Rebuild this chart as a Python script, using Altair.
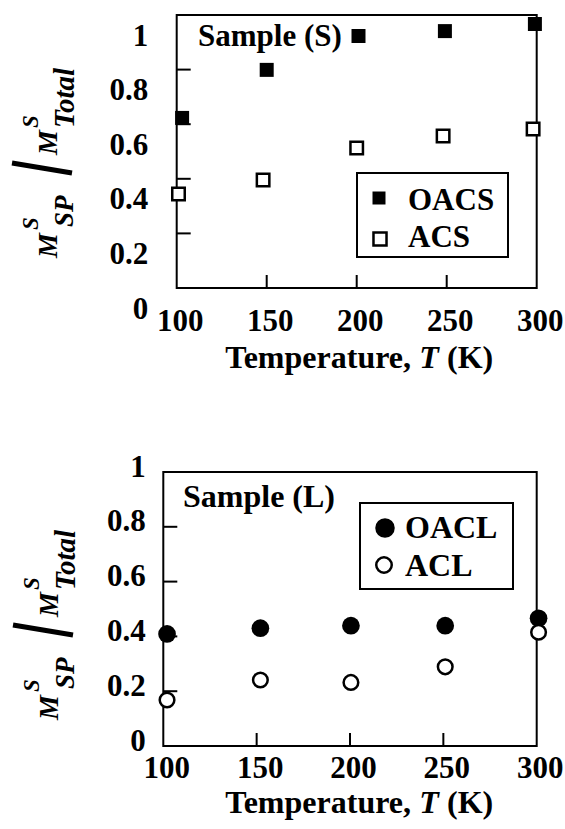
import altair as alt
import pandas as pd

FONT = "Liberation Serif"

# ---- data ----
temps_oacs = [103, 150, 201, 249, 299]
ratio_oacs = [0.623, 0.799, 0.923, 0.941, 0.967]
temps_acs = [101, 148, 200, 248, 298]
ratio_acs = [0.344, 0.396, 0.513, 0.557, 0.582]

temps_oacl = [102, 152, 200.5, 251, 301]
ratio_oacl = [0.409, 0.430, 0.439, 0.439, 0.466]
temps_acl = [102, 152, 200.5, 251, 301]
ratio_acl = [0.168, 0.241, 0.232, 0.289, 0.415]

x_domain = [100, 300]
y_domain = [0, 1]
x_tick_values = [100, 150, 200, 250, 300]
y_tick_values = [0, 0.2, 0.4, 0.6, 0.8, 1]
inner_x_ticks = [150, 200, 250]
inner_y_ticks = [0.2, 0.4, 0.6, 0.8]

panel_titles = ["Sample (S)", "Sample (L)"]
top_series = ["OACS", "ACS"]
bottom_series = ["OACL", "ACL"]
x_title_parts = ["Temperature,", "T", "(K)"]
y_title_parts = ["M", "S", "SP", "M", "S", "Total"]

W, H = 565, 829


def one():
    return pd.DataFrame({"d": [0]})


def txt(s, x, y, size, style="normal", align="left", baseline="middle", angle=0):
    return alt.Chart(pd.DataFrame({"t": [s]})).mark_text(
        font=FONT, fontSize=size, fontWeight="bold", fontStyle=style,
        align=align, baseline=baseline, angle=angle, color="black",
    ).encode(x=alt.value(x), y=alt.value(y), text="t:N")


def y_title(bx, by):
    p = y_title_parts
    return [
        txt(p[0], bx, by, 28, "italic", "left", "alphabetic", 270),
        txt(p[1], bx - 19, by - 28, 23, "italic", "left", "alphabetic", 270),
        txt(p[2], bx + 16, by - 31, 27, "italic", "left", "alphabetic", 270),
        alt.Chart(one()).mark_rule(color="black", strokeWidth=5).encode(
            x=alt.value(bx - 45), y=alt.value(by - 95),
            x2=alt.value(bx + 15), y2=alt.value(by - 85)),
        txt(p[3], bx, by - 103, 28, "italic", "left", "alphabetic", 270),
        txt(p[4], bx - 19, by - 130, 23, "italic", "left", "alphabetic", 270),
        txt(p[5], bx + 17, by - 130, 29, "italic", "left", "alphabetic", 270),
    ]


def x_title(xr, y):
    return [
        txt(x_title_parts[0], xr, y, 32, "normal", "right"),
        txt(x_title_parts[1], xr + 18, y, 32, "italic", "center"),
        txt(x_title_parts[2], xr + 36, y, 32, "normal", "left"),
    ]


def panel(frame, temps_a, vals_a, temps_b, vals_b, names, shape,
          size_a, size_b, leg, sample, ylab_pad, ylab_off, xlab_pad,
          ybase, xtitle):
    left, right, top, bottom = frame
    xscale = alt.Scale(domain=x_domain, range=[left, right], nice=False, zero=False)
    yscale = alt.Scale(domain=y_domain, range=[bottom, top], nice=False, zero=False)
    xaxis = alt.Axis(values=x_tick_values, orient="bottom", offset=bottom - H,
                     domain=False, ticks=False, grid=False,
                     labelFont=FONT, labelFontWeight="bold", labelFontSize=31,
                     labelColor="black", labelPadding=xlab_pad, labelFlush=False,
                     labelOffset=3, labelOverlap=False, title=None)
    yaxis = alt.Axis(values=y_tick_values, orient="left", offset=-left,
                     format="~g", domain=False, ticks=False,
                     grid=False, labelFont=FONT, labelFontWeight="bold",
                     labelFontSize=31, labelColor="black", labelPadding=ylab_pad,
                     labelOffset=ylab_off, labelOverlap=False, labelFlush=False,
                     title=None)

    def X(f):
        return alt.X(f, scale=xscale, axis=xaxis)

    def Y(f):
        return alt.Y(f, scale=yscale, axis=yaxis)

    df_a = pd.DataFrame({"T": temps_a, "r": vals_a})
    df_b = pd.DataFrame({"T": temps_b, "r": vals_b})

    frame_df = pd.DataFrame({"x0": [x_domain[0]], "x1": [x_domain[1]],
                             "y0": [y_domain[0]], "y1": [y_domain[1]]})
    box_frame = alt.Chart(frame_df).mark_rect(
        filled=False, stroke="black", strokeWidth=2).encode(
        x=X("x0:Q"), x2="x1", y=Y("y0:Q"), y2="y1")

    ytk = alt.Chart(pd.DataFrame({"v": inner_y_ticks})).mark_rule(
        color="black", strokeWidth=2).encode(
        y=Y("v:Q"), x=alt.value(left), x2=alt.value(left + 14))
    xtk = alt.Chart(pd.DataFrame({"v": inner_x_ticks})).mark_rule(
        color="black", strokeWidth=2).encode(
        x=X("v:Q"), y=alt.value(bottom), y2=alt.value(bottom - 13))

    pa = alt.Chart(df_a).mark_point(shape=shape, filled=True, color="black",
                                    size=size_a, opacity=1).encode(
        x=X("T:Q"), y=Y("r:Q"))
    pb = alt.Chart(df_b).mark_point(shape=shape, filled=True, fill="white",
                                    stroke="black", strokeWidth=2.5,
                                    size=size_b, opacity=1).encode(
        x=X("T:Q"), y=Y("r:Q"))

    (bx0, bx1, by0, by1, mxa, mya, mxb, myb, tx, tya, tyb, lsa, lsb, lfs) = leg
    box = alt.Chart(one()).mark_rect(fill="white", stroke="black", strokeWidth=2).encode(
        x=alt.value(bx0), x2=alt.value(bx1), y=alt.value(by0), y2=alt.value(by1))
    la = alt.Chart(one()).mark_point(shape=shape, filled=True, color="black",
                                     size=lsa, opacity=1).encode(
        x=alt.value(mxa), y=alt.value(mya))
    lb = alt.Chart(one()).mark_point(shape=shape, filled=True, fill="white",
                                     stroke="black", strokeWidth=2.5, size=lsb,
                                     opacity=1).encode(
        x=alt.value(mxb), y=alt.value(myb))
    ta = txt(names[0], tx, tya, lfs)
    tb = txt(names[1], tx, tyb, lfs)

    s_x, s_y, s_fs, s_txt = sample
    st = txt(s_txt, s_x, s_y, s_fs)

    layers = [box_frame, ytk, xtk, pa, pb, box, la, lb, ta, tb, st]
    layers += y_title(*ybase)
    layers += x_title(*xtitle)
    return alt.layer(*layers)


top = panel(
    (176.7, 536.7, 15, 288),
    temps_oacs, ratio_oacs, temps_acs, ratio_acs, top_series, "square",
    196, 156,
    (357, 508, 173, 257, 379, 198, 380, 239, 408, 201, 238, 169, 170, 31),
    (198, 37, 31, panel_titles[0]),
    29, 21, 18,
    (57, 258), (411, 358),
)

bottom = panel(
    (163.3, 536.7, 472, 746),
    temps_oacl, ratio_oacl, temps_acl, ratio_acl, bottom_series, "circle",
    314, 214,
    (360, 513, 503, 589, 385, 528, 384, 565, 405, 528, 566, 380, 240, 32),
    (183, 497, 32, panel_titles[1]),
    18, -5, 7,
    (58, 720), (411, 803),
)

chart = alt.layer(top, bottom).resolve_scale(
    x="independent", y="independent"
).resolve_axis(
    x="independent", y="independent"
).properties(
    width=W, height=H, padding=0, background="white",
    autosize=alt.AutoSizeParams(type="none"),
).configure_view(strokeWidth=0)

chart.save("out.html", embed_options={"renderer": "svg", "actions": False})
